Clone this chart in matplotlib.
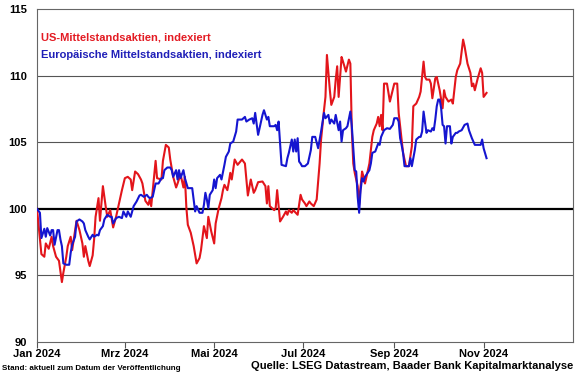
import numpy as np
import pandas as pd
import matplotlib
matplotlib.use("Agg")
import matplotlib.pyplot as plt

plt.rcParams['font.family'] = ['Liberation Sans', 'DejaVu Sans']
plt.rcParams['font.weight'] = 'bold'

# days since 2024-01-01 and index level (start = 100)
us_days = [0, 3, 5, 6, 8, 10, 11, 13, 15, 17, 18, 20, 21, 23, 24, 26, 27, 29, 31, 32,
           33, 35, 36, 38, 39, 40, 42, 43, 45, 47, 48, 50, 52, 54, 58, 60, 62, 64, 65, 67,
           69, 71, 72, 74, 76, 77, 78, 81, 82, 85, 86, 88, 90, 91, 93, 95, 96, 98, 100, 101,
           102, 103, 105, 107, 109, 111, 112, 114, 116, 117, 119, 121, 122, 124, 126, 127, 128, 130, 131, 132,
           133, 135, 137, 140, 142, 143, 144, 146, 148, 149, 151, 154, 156, 157, 158, 159, 162, 163, 164, 166,
           168, 170, 171, 172, 174, 175, 178, 180, 181, 183, 184, 186, 187, 189, 191, 193, 194, 196, 197, 198,
           199, 200, 201, 203, 204, 205, 206, 208, 209, 211, 213, 214, 215, 216, 217, 219, 220, 221, 222, 223,
           224, 225, 227, 229, 230, 232, 233, 234, 235, 236, 237, 239, 241, 244, 246, 247, 249, 250, 252, 254,
           256, 257, 259, 261, 262, 264, 265, 266, 268, 269, 270, 272, 273, 275, 277, 278, 279, 281, 283, 284,
           286, 287, 289, 291, 292, 294, 296, 297, 298, 299, 301, 303, 304, 305, 307]
us_vals = [100.0, 96.6, 96.4, 97.4, 97.0, 97.9, 97.2, 96.4, 96.1, 94.5, 95.2, 96.4, 97.2, 97.9, 96.9, 98.4, 99.1, 98.4, 97.4, 96.4,
           97.2, 96.1, 95.7, 96.5, 97.7, 99.4, 100.8, 99.1, 101.7, 100.1, 99.4, 99.9, 98.6, 99.4, 101.4, 102.3, 102.4, 102.2, 101.4, 102.8,
           102.6, 102.2, 101.9, 100.6, 100.3, 100.7, 100.2, 103.6, 102.3, 102.2, 103.6, 104.8, 104.6, 103.7, 102.4, 101.6, 101.9, 102.6, 101.6, 102.4,
           100.1, 98.8, 98.2, 97.2, 95.9, 96.3, 96.9, 98.7, 97.8, 99.4, 98.3, 97.4, 98.9, 100.0, 100.8, 101.4, 101.8, 101.4, 102.0, 102.7,
           102.2, 103.7, 103.3, 103.7, 103.4, 102.2, 101.0, 102.2, 101.2, 101.4, 102.0, 102.05, 101.7, 100.4, 101.7, 100.2, 99.9, 100.05, 101.4, 99.05,
           99.4, 99.8, 99.55, 99.9, 99.7, 99.9, 99.55, 101.05, 100.7, 100.4, 100.2, 100.55, 100.4, 100.2, 100.7, 103.4, 105.2, 107.4, 108.4, 111.55,
           110.2, 108.9, 107.8, 108.4, 109.7, 110.7, 108.4, 111.4, 111.05, 110.3, 111.2, 110.9, 105.9, 103.4, 102.7, 101.7, 100.3, 101.7, 102.8, 102.4,
           101.9, 102.4, 103.4, 105.4, 105.9, 106.4, 106.9, 106.2, 107.05, 105.9, 109.4, 109.4, 108.05, 109.4, 109.4, 107.2, 105.2, 104.2, 103.2, 103.2,
           104.7, 107.7, 107.9, 108.4, 108.8, 111.05, 109.9, 109.7, 109.7, 109.4, 108.3, 109.8, 109.9, 108.9, 107.55, 108.9, 108.4, 108.05, 108.2, 107.9,
           109.9, 110.4, 110.9, 112.7, 112.2, 110.9, 110.2, 109.2, 109.4, 108.9, 109.8, 110.55, 110.2, 108.4, 108.7]

eu_days = [0, 2, 3, 5, 6, 7, 9, 10, 11, 12, 14, 15, 16, 17, 18, 20, 22, 23, 24, 26,
           27, 29, 31, 32, 33, 35, 36, 38, 39, 41, 42, 43, 45, 46, 48, 50, 51, 52, 54, 56,
           58, 59, 61, 62, 64, 66, 68, 70, 71, 73, 75, 76, 77, 79, 81, 83, 85, 86, 87, 89,
           91, 92, 93, 95, 96, 97, 98, 100, 101, 103, 106, 107, 108, 109, 111, 113, 114, 115, 116, 117,
           118, 120, 121, 122, 123, 125, 126, 128, 129, 131, 132, 134, 136, 137, 140, 142, 143, 145, 147, 148,
           149, 151, 154, 155, 157, 158, 159, 162, 163, 164, 165, 166, 167, 170, 171, 172, 174, 175, 176, 177,
           178, 179, 180, 181, 183, 185, 187, 188, 190, 192, 194, 196, 197, 199, 200, 201, 203, 204, 206, 207,
           208, 209, 211, 212, 214, 215, 217, 218, 219, 220, 221, 222, 223, 224, 227, 228, 229, 231, 233, 234,
           235, 237, 239, 241, 243, 244, 246, 247, 248, 249, 250, 251, 254, 255, 256, 258, 259, 261, 262, 263,
           264, 266, 267, 269, 270, 271, 272, 273, 274, 275, 276, 277, 278, 279, 280, 282, 283, 284, 286, 287,
           288, 290, 292, 294, 295, 297, 299, 301, 303, 304, 305, 307]
eu_vals = [100.0, 99.7, 97.8, 98.5, 97.9, 98.55, 98.0, 98.4, 98.4, 97.3, 98.4, 98.4, 97.7, 97.2, 95.9, 95.8, 95.8, 96.7, 97.3, 97.9,
           99.05, 99.2, 99.05, 98.9, 98.4, 97.9, 97.7, 98.05, 97.9, 98.05, 98.0, 98.4, 98.7, 99.2, 99.55, 99.4, 99.4, 98.9, 99.3, 99.4,
           99.3, 99.8, 99.4, 99.8, 99.4, 100.2, 100.55, 101.0, 101.05, 100.9, 101.05, 100.9, 100.8, 100.9, 101.9, 101.9, 102.3, 102.3, 102.9, 103.1,
           103.1, 102.9, 102.4, 102.9, 102.2, 102.9, 102.3, 102.9, 102.3, 101.55, 101.55, 100.7, 99.8, 100.2, 99.7, 99.7, 100.3, 101.2, 100.7, 100.05,
           101.05, 101.4, 102.2, 101.55, 102.3, 102.55, 102.2, 103.3, 103.9, 104.3, 104.9, 105.05, 105.8, 106.7, 106.7, 106.9, 106.55, 106.7, 106.8, 106.4,
           107.2, 105.55, 107.05, 107.4, 106.7, 106.9, 106.2, 106.2, 106.3, 105.9, 106.55, 104.9, 103.3, 103.2, 103.8, 104.2, 105.2, 104.3, 105.2, 104.3,
           105.3, 103.55, 103.4, 103.2, 103.2, 103.4, 104.4, 105.4, 105.4, 104.55, 105.8, 107.2, 106.8, 107.05, 106.4, 106.7, 106.4, 107.05, 105.9, 106.55,
           105.05, 105.9, 106.05, 106.2, 107.3, 106.2, 102.9, 102.8, 100.9, 99.7, 101.4, 102.3, 102.05, 102.4, 102.9, 103.4, 104.2, 104.3, 104.9, 104.8,
           105.4, 105.9, 106.05, 106.0, 106.3, 106.8, 106.8, 106.55, 105.3, 104.8, 104.2, 103.2, 103.2, 103.8, 103.2, 104.4, 105.2, 105.4, 105.4, 105.8,
           107.3, 105.7, 105.9, 105.8, 106.05, 105.9, 106.7, 107.7, 108.2, 108.2, 107.55, 106.3, 106.2, 104.9, 106.2, 106.2, 104.9, 105.4, 105.7, 105.7,
           105.8, 105.9, 106.3, 106.4, 105.9, 105.3, 104.8, 104.8, 104.8, 105.2, 104.55, 103.8]

tick_months = ['2024-01-01', '2024-03-01', '2024-05-01', '2024-07-01', '2024-09-01', '2024-11-01']
tick_labels = ['Jan 2024', 'Mrz 2024', 'Mai 2024', 'Jul 2024', 'Sep 2024', 'Nov 2024']
y_ticks = [90, 95, 100, 105, 110, 115]

start = pd.Timestamp('2024-01-01')
us_dates = start + pd.to_timedelta(us_days, unit='D')
eu_dates = start + pd.to_timedelta(eu_days, unit='D')

fig = plt.figure(figsize=(5.8, 3.75), dpi=100)
ax = fig.add_axes([0.0638, 0.088, 0.924, 0.888])

for yv in [95, 105, 110]:
    ax.axhline(yv, color='#555555', lw=0.8, zorder=1)
ax.axhline(100, color='black', lw=1.6, zorder=1)

ax.plot(us_dates, us_vals, color='#e3151b', lw=1.5, zorder=3)
ax.plot(eu_dates, eu_vals, color='#1515d0', lw=1.5, zorder=4)

ax.set_xlim(pd.Timestamp('2024-01-01'), pd.Timestamp('2025-01-01'))
ax.set_ylim(90, 115)
ax.set_yticks(y_ticks)
ax.set_yticklabels([str(v) for v in y_ticks], fontsize=8, fontweight='bold')
ax.set_xticks(pd.to_datetime(tick_months))
ax.set_xticklabels(tick_labels, fontsize=8, fontweight='bold')
ax.tick_params(axis='y', length=0, pad=7)
ax.tick_params(axis='x', length=4, width=0.8, color='#555555', pad=1)
for sp in ax.spines.values():
    sp.set_color('#666666')
    sp.set_linewidth(0.8)

ax.text(0.008, 0.913, 'US-Mittelstandsaktien, indexiert', transform=ax.transAxes,
        color='#e31b23', fontsize=8, fontweight='bold', va='center', ha='left')
ax.text(0.008, 0.862, 'Europäische Mittelstandsaktien, indexiert', transform=ax.transAxes,
        color='#1f1fb8', fontsize=8, fontweight='bold', va='center', ha='left')

fig.text(0.003, 0.016, 'Stand: aktuell zum Datum der Veröffentlichung', fontsize=5.8,
         fontweight='bold', ha='left', va='center')
fig.text(0.988, 0.024, 'Quelle: LSEG Datastream, Baader Bank Kapitalmarktanalyse', fontsize=8,
         fontweight='bold', ha='right', va='center')

fig.savefig('out.png', dpi=100)
